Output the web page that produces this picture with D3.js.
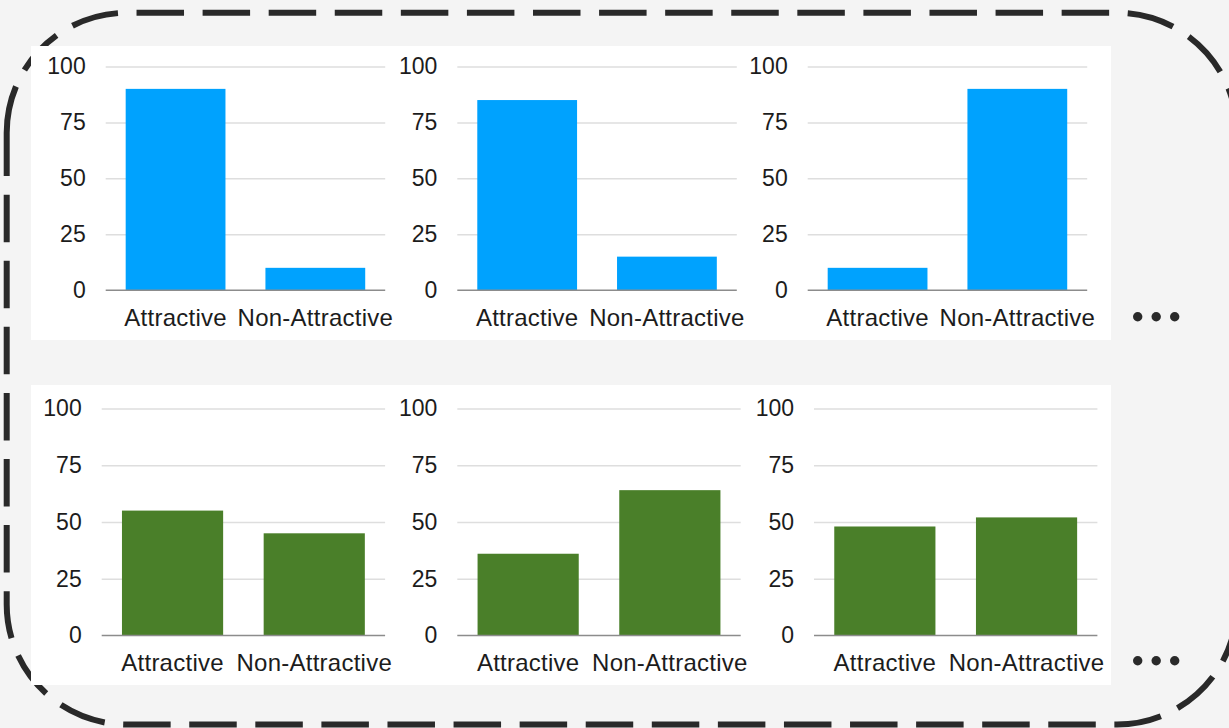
<!DOCTYPE html>
<html>
<head>
<meta charset="utf-8">
<script src="https://cdn.jsdelivr.net/npm/d3@7"></script>
<style>
  html, body { margin: 0; padding: 0; background: #f4f4f4; overflow: hidden; }
  svg { display: block; }
  text { font-family: "Liberation Sans", Arial, Helvetica, sans-serif; fill: #1c1c1c; }
</style>
</head>
<body>
<svg id="chart" width="1229" height="728"></svg>
<script>
// ---- data ----
const categories = ["Attractive", "Non-Attractive"];
const yTicks = [0, 25, 50, 75, 100];

// top row (three panels), percentages per category
const topAttractive    = [90, 85, 10];
const topNonAttractive = [10, 15, 90];

// bottom row (three panels)
const bottomAttractive    = [55, 36, 48];
const bottomNonAttractive = [45, 64, 52];

// ---- layout ----
const svg = d3.select("#chart");
const W = 1229, H = 728;

const rows = [
  {
    attractive: topAttractive, nonAttractive: topNonAttractive,
    color: "#00a2fe",
    panel: { x: 31, y: 46, w: 1080, h: 294 },
    yBase: 290.2, yTop: 66.5,
    plotX: [105.7, 457.3, 807.7], plotW: 279.5,
    dotsY: 316.7
  },
  {
    attractive: bottomAttractive, nonAttractive: bottomNonAttractive,
    color: "#4a7f29",
    panel: { x: 31, y: 385, w: 1080, h: 300 },
    yBase: 635.5, yTop: 408.4,
    plotX: [101.7, 457.3, 814], plotW: 283.4,
    dotsY: 660.7
  }
];

// dashed rounded frame around everything
(function drawFrame() {
  const L = 6.7, T = 12.8, R = 1237, B = 724.5, r = 120;
  const p = d3.path();
  p.moveTo(L, T + r);
  p.arcTo(L, T, L + r, T, r);
  p.lineTo(R - r, T);
  p.arcTo(R, T, R, T + r, r);
  p.lineTo(R, B - r);
  p.arcTo(R, B, R - r, B, r);
  p.lineTo(L + r, B);
  p.arcTo(L, B, L, B - r, r);
  p.closePath();
  svg.append("path")
    .attr("d", p.toString())
    .attr("fill", "none")
    .attr("stroke", "#292929")
    .attr("stroke-width", 6)
    .attr("stroke-dasharray", "47.5 18.58");
})();

rows.forEach(row => {
  // white card behind the three charts of this row
  svg.append("rect")
    .attr("x", row.panel.x).attr("y", row.panel.y)
    .attr("width", row.panel.w).attr("height", row.panel.h)
    .attr("fill", "#ffffff");

  const y = d3.scaleLinear().domain([0, 100]).range([row.yBase, row.yTop]);

  row.plotX.forEach((x0, i) => {
    const values = [row.attractive[i], row.nonAttractive[i]];
    const data = categories.map((c, k) => ({ category: c, value: values[k] }));

    const x = d3.scaleBand()
      .domain(categories)
      .range([0, row.plotW])
      .paddingInner(0.286)
      .paddingOuter(0.143);

    const g = svg.append("g").attr("transform", `translate(${x0},0)`);

    // horizontal gridlines + tick labels
    const yAxis = g.append("g")
      .call(d3.axisLeft(y).tickValues(yTicks).tickSize(-row.plotW).tickPadding(20));
    yAxis.select(".domain").remove();
    yAxis.selectAll(".tick line")
      .attr("stroke", "#dedede")
      .attr("stroke-width", 1.5)
      .attr("display", d => d === 0 ? "none" : null);
    yAxis.selectAll(".tick text")
      .attr("font-size", 23)
      .attr("fill", "#1c1c1c")
      .style("font-family", '"Liberation Sans", Arial, sans-serif');

    // bars
    g.selectAll("rect.bar")
      .data(data)
      .join("rect")
      .attr("class", "bar")
      .attr("x", d => x(d.category))
      .attr("width", x.bandwidth())
      .attr("y", d => y(d.value))
      .attr("height", d => y(0) - y(d.value))
      .attr("fill", row.color);

    // baseline
    g.append("line")
      .attr("x1", 0).attr("x2", row.plotW)
      .attr("y1", y(0)).attr("y2", y(0))
      .attr("stroke", "#8c8c8c")
      .attr("stroke-width", 1.5);

    // category labels
    const xAxis = g.append("g")
      .attr("transform", `translate(0,${y(0)})`)
      .call(d3.axisBottom(x).tickSize(0));
    xAxis.select(".domain").remove();
    xAxis.selectAll(".tick text")
      .attr("y", 35.5)
      .attr("dy", 0)
      .attr("font-size", 24)
      .attr("letter-spacing", 0.25)
      .attr("fill", "#1c1c1c")
      .style("font-family", '"Liberation Sans", Arial, sans-serif');
  });

  // continuation marks to the right of each row
  svg.selectAll(null)
    .data([1137.7, 1156.2, 1174.7])
    .join("circle")
    .attr("cx", d => d)
    .attr("cy", row.dotsY)
    .attr("r", 4.7)
    .attr("fill", "#2a2a2a");
});
</script>
</body>
</html>
